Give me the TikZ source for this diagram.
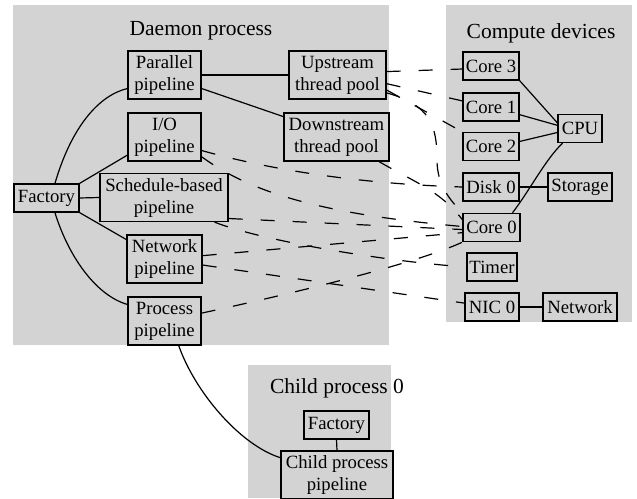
\documentclass[tikz,border=0pt]{standalone}
\usepackage{fontspec}
\setmainfont{Liberation Serif}
\definecolor{clustergray}{RGB}{211,211,211}

\begin{document}
\begin{tikzpicture}[x=1pt,y=-1pt,
    box/.style={draw,fill=clustergray,line width=1.3pt,inner sep=0pt,align=center,
      font=\fontsize{18.7pt}{22pt}\selectfont,minimum height=28pt},
    tall/.style={box,minimum height=48pt},
    title/.style={anchor=base,inner sep=0pt,font=\fontsize{21.5pt}{24pt}\selectfont},
    link/.style={line width=1.2pt},
    dep/.style={line width=1.2pt,dash pattern=on 14pt off 18pt}]
  \useasboundingbox (0,0) rectangle (637,498);
  \fill[clustergray] (13,5) rectangle (389,345);
  \fill[clustergray] (446,5) rectangle (632,322);
  \fill[clustergray] (248,365) rectangle (391,498);
  \node[title] (dtitle) at (201,35) {Daemon process};
  \node[title] (ctitle) at (541,38) {Compute devices};
  \node[title] (ptitle) at (337,393) {Child process 0};

  \node[box,minimum width=65pt] (fac) at (46.5,198) {Factory};
  \node[tall,minimum width=73pt] (par) at (164.5,75) {Parallel\\pipeline};
  \node[tall,minimum width=73pt] (io) at (164.5,137) {I/O\\pipeline};
  \node[tall,minimum width=128pt] (sched) at (164,197.5) {Schedule-based\\pipeline};
  \node[tall,minimum width=75pt] (net) at (164.5,259) {Network\\pipeline};
  \node[tall,minimum width=73pt] (proc) at (164.5,321) {Process\\pipeline};
  \node[tall,minimum width=97pt] (up) at (337.5,75) {Upstream\\thread pool};
  \node[tall,minimum width=105pt] (down) at (336.5,137) {Downstream\\thread pool};

  \node[box,minimum width=56pt] (c3) at (491,66) {Core 3};
  \node[box,minimum width=56pt] (c1) at (491,107) {Core 1};
  \node[box,minimum width=56pt] (c2) at (491,146.5) {Core 2};
  \node[box,minimum width=44pt] (cpu) at (580,128.5) {CPU};
  \node[box,minimum width=56pt] (d0) at (491,187) {Disk 0};
  \node[box,minimum width=64pt] (stor) at (580,187) {Storage};
  \node[box,minimum width=57pt] (c0) at (491.5,227.5) {Core 0};
  \node[box,minimum width=50pt] (tim) at (492,267) {Timer};
  \node[box,minimum width=54pt] (nic) at (492,307) {NIC 0};
  \node[box,minimum width=74pt] (netw) at (580,307) {Network};

  \node[box,minimum width=65pt] (cfac) at (336.5,425) {Factory};
  \node[tall,minimum width=112pt] (cpipe) at (337,475) {Child process\\pipeline};

  \draw[link] (fac.60) .. controls (72,125) and (100,95) .. (par.200);
  \draw[link] (fac.north east) -- (io.206);
  \draw[link] (fac.east) -- (sched.west);
  \draw[link] (fac.south east) -- (net.153);
  \draw[link] (fac.-60) .. controls (68,255) and (95,295) .. (proc.156);
  \draw[link] (par.east) -- (up.west);
  \draw[link] (par.-20) -- (down.159);
  \draw[link] (c3.south east) -- (cpu.166);
  \draw[link] (c1.-15) -- (cpu.172);
  \draw[link] (c2.10) -- (cpu.190);
  \draw[link] (c0.35) .. controls (530,190) and (545,160) .. (cpu.220);
  \draw[link] (d0.east) -- (stor.west);
  \draw[link] (nic.east) -- (netw.west);
  \draw[link] (proc.-60) .. controls (195,392) and (240,445) .. (cpipe.163);
  \draw[link] (cfac.south) -- (cpipe.north);

  \draw[dep] (up.4) -- (c3.186);
  \draw[dep] (up.-10) -- (c1.168);
  \draw[dep] (up.-17) -- (c2.north west);
  \draw[dep] (up.-20) .. controls (430,105) and (437,125) .. (437,160)
    .. controls (437,185) and (450,200) .. (c0.north west);
  \draw[dep] (down.-30) .. controls (410,180) and (440,190) .. (c0.165);
  \draw[dep] (io.-20) .. controls (300,178) and (400,185) .. (d0.west);
  \draw[dep] (io.-28) .. controls (250,192) and (320,214) .. (c0.178);
  \draw[dep] (sched.-18) -- (c0.184);
  \draw[dep] (sched.-26) .. controls (260,240) and (380,261) .. (tim.west);
  \draw[dep] (net.5) -- (c0.190);
  \draw[dep] (net.-9) -- (nic.172);
  \draw[dep] (proc.12) .. controls (300,292) and (420,262) .. (c0.south west);
\end{tikzpicture}
\end{document}
